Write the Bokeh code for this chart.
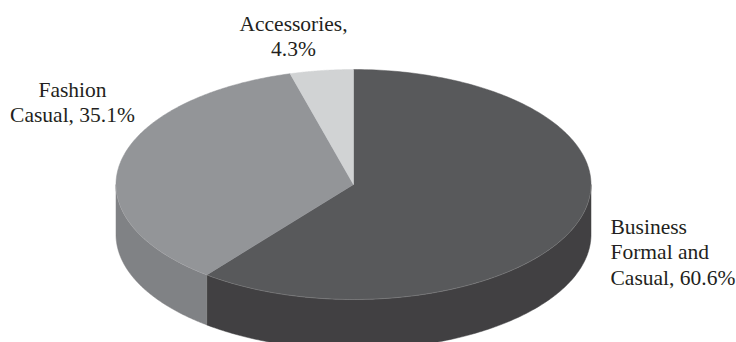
import numpy as np
from bokeh.core.properties import value
from bokeh.embed import file_html
from bokeh.models import ColumnDataSource, Range1d
from bokeh.plotting import figure
from bokeh.resources import INLINE

# Share of sales by category, clockwise from twelve o'clock
categories = ["Business Formal and Casual", "Fashion Casual", "Accessories"]
shares = [60.6, 35.1, 4.3]
label_lines = [
    ["Business", "Formal and", "Casual, 60.6%"],
    ["Fashion", "Casual, 35.1%"],
    ["Accessories,", "4.3%"],
]
top_colors = ["#58595b", "#939598", "#d1d3d4"]
side_colors = ["#414042", "#808285", "#a7a9ac"]

# Pie geometry in screen pixels
CX, CY = 353.0, 184.0
RX, RY = 237.5, 115.0
DEPTH = 50.0


def rim(angle):
    """Point on the top ellipse; angle is radians clockwise from the top."""
    return CX + RX * np.sin(angle), CY - RY * np.cos(angle)


p = figure(
    width=736, height=342, output_backend="svg", toolbar_location=None,
    x_range=Range1d(0, 736), y_range=Range1d(342, 0),
    min_border=0, outline_line_color=None, background_fill_color="white",
    border_fill_color="white",
)
p.axis.visible = False
p.grid.visible = False

edges = np.cumsum([0.0] + shares) / sum(shares) * 2 * np.pi

# Outer wall: only the front half of the ellipse (90 to 270 degrees) is visible
for start, end, color in zip(edges[:-1], edges[1:], side_colors):
    lo, hi = max(start, np.pi / 2), min(end, 3 * np.pi / 2)
    if lo >= hi:
        continue
    t = np.linspace(lo, hi, 160)
    x, y = rim(t)
    p.patch(
        np.concatenate([x, x[::-1]]),
        np.concatenate([y, y[::-1] + DEPTH]),
        fill_color=color, line_color=color, line_width=0.5,
    )

# Top face slices
for start, end, color in zip(edges[:-1], edges[1:], top_colors):
    t = np.linspace(start, end, 240)
    x, y = rim(t)
    p.patch(
        np.concatenate([[CX], x]),
        np.concatenate([[CY], y]),
        fill_color=color, line_color=color, line_width=0.5,
    )

# Faint highlight along the front rim of the top face
t = np.linspace(np.pi / 2, 3 * np.pi / 2, 300)
hx, hy = rim(t)
p.line(hx, hy, line_color="#c8c9cb", line_width=0.5, line_alpha=0.45)

# Category labels
label_anchor = [(610, "left", 226), (72, "center", 89), (293, "center", 23)]
LINE_STEP = 25.5
xs, ys, texts, aligns = [], [], [], []
for lines, (ax, align, first_y) in zip(label_lines, label_anchor):
    for i, line in enumerate(lines):
        xs.append(ax)
        ys.append(first_y + i * LINE_STEP)
        texts.append(line)
        aligns.append(align)

source = ColumnDataSource(dict(x=xs, y=ys, text=texts, align=aligns))
p.text(
    "x", "y", text="text", source=source, text_align="align",
    text_baseline="middle", text_font=value("Liberation Serif"),
    text_font_size="21.5px", text_color="#231f20",
)

open("out.html", "w").write(file_html(p, INLINE))
